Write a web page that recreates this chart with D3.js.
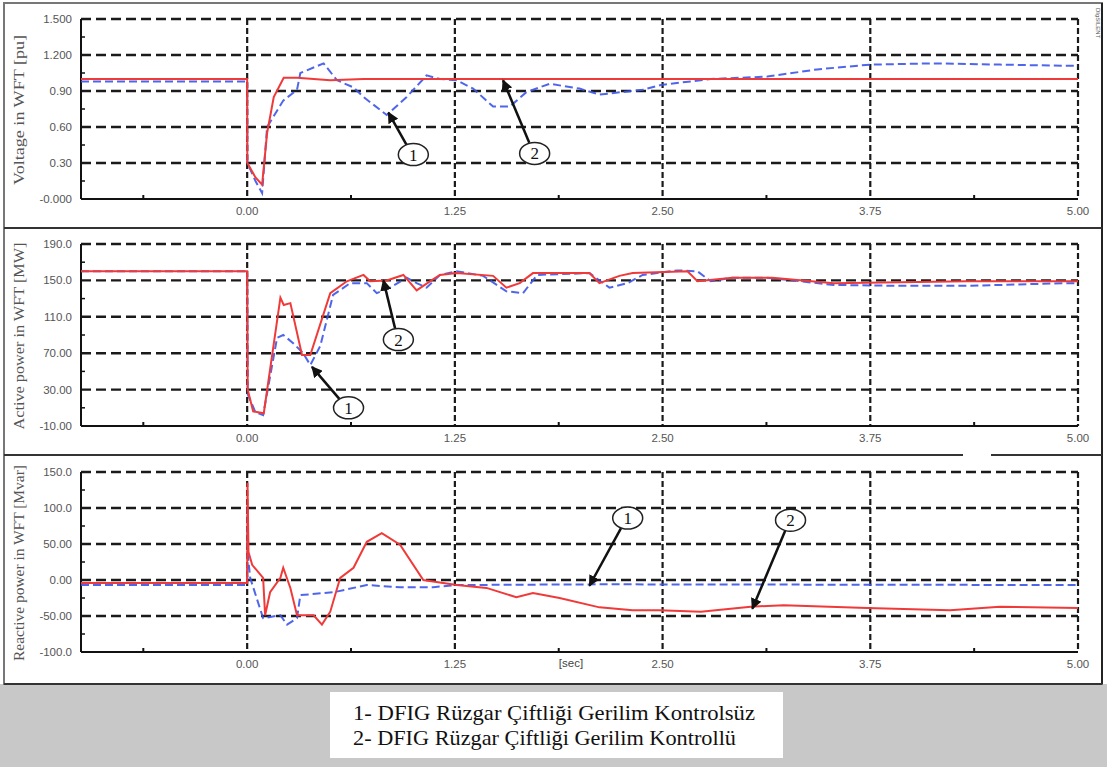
<!DOCTYPE html>
<html>
<head>
<meta charset="utf-8">
<script src="https://cdn.jsdelivr.net/npm/d3@7"></script>
<style>
  html, body { margin: 0; padding: 0; background: #ffffff; }
  svg { display: block; }
</style>
</head>
<body>
<svg id="chart" width="1107" height="767"></svg>
<script>
// ---------------- DATA ----------------
const xTickValues = [0, 1.25, 2.5, 3.75, 5.0];
const xTickLabels = ["0.00", "1.25", "2.50", "3.75", "5.00"];
const xMinorTicks = [-0.625, 0.625, 1.875, 3.125, 4.375];

const voltageTicks = [0, 0.3, 0.6, 0.9, 1.2, 1.5];
const voltageTickLabels = ["-0.000", "0.30", "0.60", "0.90", "1.200", "1.500"];
const activeTicks = [-10, 30, 70, 110, 150, 190];
const activeTickLabels = ["-10.00", "30.00", "70.00", "110.0", "150.0", "190.0"];
const reactiveTicks = [-100, -50, 0, 50, 100, 150];
const reactiveTickLabels = ["-100.0", "-50.00", "0.00", "50.00", "100.0", "150.0"];

const panelTitles = ["Voltage in WFT [pu]", "Active power in WFT [MW]", "Reactive power in WFT [Mvar]"];
const legendLines = ["1- DFIG Rüzgar Çiftliği Gerilim Kontrolsüz", "2- DFIG Rüzgar Çiftliği Gerilim Kontrollü"];

// series 1 = uncontrolled (blue dashed), series 2 = controlled (red solid); [time s, value]
const voltageUncontrolled = [[-1,0.98],[0,0.98],[0.001,0.3],[0.05,0.15],[0.09,0.05],[0.12,0.6],[0.217,0.82],[0.30,0.91],[0.32,1.05],[0.46,1.13],[0.54,0.99],[0.64,0.93],[0.70,0.85],[0.84,0.70],[0.96,0.85],[1.08,1.03],[1.16,1.0],[1.26,0.99],[1.36,0.92],[1.48,0.77],[1.58,0.77],[1.68,0.89],[1.82,0.96],[2.0,0.92],[2.12,0.87],[2.38,0.91],[2.49,0.95],[2.79,1.0],[3.13,1.02],[3.43,1.08],[3.75,1.12],[4.13,1.13],[4.53,1.12],[4.93,1.11],[5.0,1.11]];
const voltageControlled = [[-1,1.0],[0,1.0],[0.001,0.3],[0.05,0.18],[0.09,0.12],[0.12,0.55],[0.16,0.85],[0.22,1.01],[0.3,1.01],[0.5,0.99],[0.7,1.0],[1.0,1.0],[5.0,1.0]];

const activeUncontrolled = [[-1,160],[0,160],[0.003,25],[0.05,5],[0.096,2],[0.18,87],[0.217,90],[0.277,81],[0.337,70],[0.38,57],[0.44,78],[0.517,134],[0.62,147],[0.72,147],[0.78,136],[0.86,142],[0.96,153],[1.02,147],[1.08,142],[1.16,156],[1.26,160],[1.42,155],[1.56,138],[1.66,136],[1.745,156],[2.06,158],[2.18,142],[2.29,147],[2.38,156],[2.59,161],[2.71,160],[2.79,149],[2.92,153],[3.13,153],[3.53,145],[3.93,144],[4.33,144],[4.93,147],[5.0,147]];
const activeControlled = [[-1,160],[0,160],[0.003,30],[0.036,6],[0.1,4],[0.2,131],[0.22,123],[0.26,125],[0.33,68],[0.38,68],[0.5,136],[0.6,149],[0.70,156],[0.74,149],[0.84,150],[0.94,156],[1.02,139],[1.10,149],[1.16,156],[1.26,158],[1.48,155],[1.56,142],[1.64,147],[1.72,158],[2.06,158],[2.12,147],[2.24,155],[2.32,158],[2.65,160],[2.71,149],[2.92,153],[3.16,153],[3.53,147],[4.33,149],[5.0,149]];

const reactiveUncontrolled = [[-1,-7],[0,-7],[0.002,100],[0.006,31],[0.018,3],[0.096,-53],[0.2,-49],[0.24,-62],[0.30,-53],[0.32,-21],[0.52,-17],[0.72,-7],[0.92,-10],[1.12,-10],[1.26,-7],[2.12,-6],[5.0,-7]];
const reactiveControlled = [[-1,-4],[0,-4],[0.002,135],[0.008,39],[0.03,21],[0.096,3],[0.108,-49],[0.138,-17],[0.2,3],[0.217,17],[0.26,-11],[0.30,-49],[0.40,-49],[0.45,-62],[0.50,-44],[0.56,3],[0.64,17],[0.72,53],[0.81,65],[0.92,49],[1.06,0],[1.26,-7],[1.44,-11],[1.62,-24],[1.72,-18],[1.88,-25],[2.12,-38],[2.32,-42],[2.48,-42],[2.73,-44],[3.03,-37],[3.23,-35],[3.73,-39],[4.23,-42],[4.53,-37],[5.0,-39]];

// callouts: label, circle centre [t, value], arrow tip [t, value]
const voltageCallouts = [["1", [1.00, 0.37], [0.85, 0.72]], ["2", [1.73, 0.38], [1.54, 0.99]]];
const activeCallouts = [["1", [0.61, 10], [0.39, 55]], ["2", [0.91, 85], [0.82, 150]]];
const reactiveCallouts = [["1", [2.29, 86], [2.06, -8]], ["2", [3.27, 83], [3.04, -40]]];

// ---------------- LAYOUT ----------------
const svg = d3.select("#chart");
const W = 1107, H = 767;
const x = d3.scaleLinear().domain([-1, 5]).range([81, 1078]);

const panels = [
  { title: panelTitles[0], titleLen: 150, domain: [0, 1.5], range: [199, 19], ticks: voltageTicks, labels: voltageTickLabels, s1: voltageUncontrolled, s2: voltageControlled, callouts: voltageCallouts },
  { title: panelTitles[1], titleLen: 187, domain: [-10, 190], range: [426, 244], ticks: activeTicks, labels: activeTickLabels, s1: activeUncontrolled, s2: activeControlled, callouts: activeCallouts },
  { title: panelTitles[2], titleLen: 196, domain: [-100, 150], range: [652, 472], ticks: reactiveTicks, labels: reactiveTickLabels, s1: reactiveUncontrolled, s2: reactiveControlled, callouts: reactiveCallouts }
];

// background
svg.append("rect").attr("x", 0).attr("y", 0).attr("width", W).attr("height", H).attr("fill", "#ffffff");
svg.append("rect").attr("x", 0).attr("y", 684).attr("width", W).attr("height", H - 684).attr("fill", "#c8c8c8");

// arrow marker
const defs = svg.append("defs");
defs.append("marker").attr("id", "arrowhead").attr("viewBox", "0 0 10 10")
  .attr("refX", 9).attr("refY", 5).attr("markerWidth", 4.5).attr("markerHeight", 4.5)
  .attr("orient", "auto").attr("markerUnits", "strokeWidth")
  .append("path").attr("d", "M0,0 L10,5 L0,10 z").attr("fill", "#111");

panels.forEach((p, i) => {
  const y = d3.scaleLinear().domain(p.domain).range(p.range);
  const g = svg.append("g");
  const [x0, x1] = x.range();
  const [yb, yt] = p.range;

  // horizontal dashed grid (except bottom axis)
  p.ticks.forEach((t, k) => {
    if (k === 0) return;
    g.append("line").attr("x1", x0).attr("x2", x1).attr("y1", y(t)).attr("y2", y(t))
      .attr("stroke", "#1a1a1a").attr("stroke-width", 2.4).attr("stroke-dasharray", "10,5");
  });
  // vertical dashed grid
  xTickValues.forEach(t => {
    g.append("line").attr("x1", x(t)).attr("x2", x(t)).attr("y1", yt).attr("y2", yb)
      .attr("stroke", "#1a1a1a").attr("stroke-width", 2.2).attr("stroke-dasharray", "6,3");
  });

  // axes (solid)
  g.append("line").attr("x1", x0).attr("x2", x0).attr("y1", yt).attr("y2", yb).attr("stroke", "#111").attr("stroke-width", 2);
  g.append("line").attr("x1", x0).attr("x2", x1).attr("y1", yb).attr("y2", yb).attr("stroke", "#111").attr("stroke-width", 2);

  // minor ticks
  xMinorTicks.forEach(t => {
    g.append("line").attr("x1", x(t)).attr("x2", x(t)).attr("y1", yb).attr("y2", yb - 4).attr("stroke", "#111").attr("stroke-width", 2);
  });
  for (let k = 0; k < p.ticks.length - 1; k++) {
    const m = (p.ticks[k] + p.ticks[k + 1]) / 2;
    g.append("line").attr("x1", x0).attr("x2", x0 + 4).attr("y1", y(m)).attr("y2", y(m)).attr("stroke", "#111").attr("stroke-width", 1.5);
  }

  // y tick labels
  p.ticks.forEach((t, k) => {
    g.append("text").attr("x", 72).attr("y", y(t) + 4).attr("text-anchor", "end")
      .attr("font-family", "Liberation Sans, Arial, sans-serif").attr("font-size", 11.5)
      .attr("fill", "#555").text(p.labels[k]);
  });
  // x tick labels
  xTickValues.forEach((t, k) => {
    g.append("text").attr("x", x(t)).attr("y", yb + 16).attr("text-anchor", "middle")
      .attr("font-family", "Liberation Sans, Arial, sans-serif").attr("font-size", 11.5)
      .attr("fill", "#555").text(xTickLabels[k]);
  });

  // y title
  g.append("text").attr("transform", `translate(24,${(yt + yb) / 2 + 1}) rotate(-90)`)
    .attr("text-anchor", "middle").attr("font-family", "Liberation Serif, Times New Roman, serif")
    .attr("font-size", 15).attr("fill", "#555")
    .attr("textLength", p.titleLen).attr("lengthAdjust", "spacingAndGlyphs").text(p.title);

  // series
  const line = d3.line().x(d => x(d[0])).y(d => y(d[1]));
  g.append("path").datum(p.s1).attr("d", line).attr("fill", "none")
    .attr("stroke", "#3c55e8").attr("stroke-width", 2).attr("stroke-dasharray", "8,4").attr("opacity", 0.9);
  g.append("path").datum(p.s2).attr("d", line).attr("fill", "none")
    .attr("stroke", "#f03a3a").attr("stroke-width", 2);

  // callouts
  p.callouts.forEach(c => {
    const cx = x(c[1][0]), cy = y(c[1][1]);
    const tx = x(c[2][0]), ty = y(c[2][1]);
    const rx = 15, ry = 11;
    const ang = Math.atan2(ty - cy, tx - cx);
    const sx = cx + rx * Math.cos(ang) * 0.9, sy = cy + ry * Math.sin(ang) * 1.05;
    g.append("line").attr("x1", sx).attr("y1", sy).attr("x2", tx).attr("y2", ty)
      .attr("stroke", "#111").attr("stroke-width", 2.5).attr("marker-end", "url(#arrowhead)");
    g.append("ellipse").attr("cx", cx).attr("cy", cy).attr("rx", rx).attr("ry", ry)
      .attr("fill", "#ffffff").attr("stroke", "#222").attr("stroke-width", 1.5);
    g.append("text").attr("x", cx).attr("y", cy + 6).attr("text-anchor", "middle")
      .attr("font-family", "Liberation Serif, Times New Roman, serif").attr("font-size", 17)
      .attr("fill", "#111").text(c[0]);
  });
});

// [sec] label
svg.append("text").attr("x", 571).attr("y", 667).attr("text-anchor", "middle")
  .attr("font-family", "Liberation Sans, Arial, sans-serif").attr("font-size", 11.5).attr("fill", "#444").text("[sec]");

// DIgSILENT vertical mark
svg.append("text").attr("transform", "translate(1096,8) rotate(90)")
  .attr("font-family", "Liberation Sans, Arial, sans-serif").attr("font-size", 6).attr("fill", "#555").text("DIgSILENT");

// frames
svg.append("rect").attr("x", 4).attr("y", 3).attr("width", 1098).attr("height", 681)
  .attr("fill", "none").attr("stroke", "#777").attr("stroke-width", 2);
svg.append("line").attr("x1", 1102).attr("x2", 1102).attr("y1", 3).attr("y2", 684).attr("stroke", "#222").attr("stroke-width", 2);
svg.append("line").attr("x1", 4).attr("x2", 1102).attr("y1", 228).attr("y2", 228).attr("stroke", "#333").attr("stroke-width", 2);
svg.append("line").attr("x1", 4).attr("x2", 963).attr("y1", 455).attr("y2", 455).attr("stroke", "#333").attr("stroke-width", 2);
svg.append("line").attr("x1", 991).attr("x2", 1102).attr("y1", 455).attr("y2", 455).attr("stroke", "#333").attr("stroke-width", 2);
svg.append("line").attr("x1", 4).attr("x2", 1102).attr("y1", 684).attr("y2", 684).attr("stroke", "#333").attr("stroke-width", 2);

// legend box
svg.append("rect").attr("x", 330).attr("y", 692).attr("width", 453).attr("height", 66).attr("fill", "#ffffff");
legendLines.forEach((t, k) => {
  svg.append("text").attr("x", 353).attr("y", 720 + k * 25)
    .attr("font-family", "Liberation Serif, Times New Roman, serif").attr("font-size", 21)
    .attr("fill", "#111").attr("textLength", k === 0 ? 402 : 383).attr("lengthAdjust", "spacingAndGlyphs").text(t);
});
</script>
</body>
</html>
